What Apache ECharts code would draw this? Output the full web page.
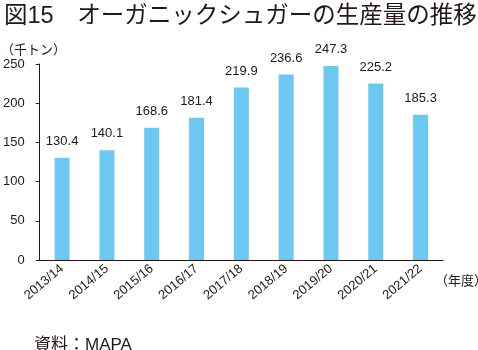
<!DOCTYPE html>
<html lang="ja">
<head>
<meta charset="UTF-8">
<title>オーガニックシュガーの生産量の推移</title>
<script src="https://cdn.jsdelivr.net/npm/echarts@6/dist/echarts.min.js"></script>
<style>
  html, body { margin: 0; padding: 0; background: #fff; }
  #chart { width: 478px; height: 350px; }
</style>
</head>
<body>
<div id="chart"></div>
<script>
    // 年度
    const years = ['2013/14', '2014/15', '2015/16', '2016/17', '2017/18', '2018/19', '2019/20', '2020/21', '2021/22'];
    // 生産量（千トン）
    const production = [130.4, 140.1, 168.6, 181.4, 219.9, 236.6, 247.3, 225.2, 185.3];

    // 数字は Liberation Sans、和文は Noto Sans CJK JP にフォールバック
    const font = '"Liberation Sans", "Noto Sans CJK JP", sans-serif';
    const ink = '#231815';
    const myChart = echarts.init(document.getElementById('chart'));
    const option = {
        animation: false,
        textStyle: { fontFamily: font },
        title: [
            {
                text: '図15　オーガニックシュガーの生産量の推移',
                left: -1, top: 0,
                textStyle: { fontSize: 23.5, fontWeight: 'normal', color: ink, fontFamily: font }
            },
            {
                text: '（千トン）',
                left: -4, top: 39,
                textStyle: { fontSize: 13, fontWeight: 'normal', color: ink, fontFamily: font }
            },
            {
                text: '（年度）',
                left: 430, top: 270,
                textStyle: { fontSize: 13, fontWeight: 'normal', color: ink, fontFamily: font }
            },
            {
                text: '資料：MAPA',
                left: 29, top: 332,
                textStyle: { fontSize: 17, fontWeight: 'normal', color: ink, fontFamily: font }
            }
        ],
        grid: { left: 38, right: 35, top: 64, bottom: 90 },
        xAxis: {
            type: 'category',
            data: years,
            axisLine: { lineStyle: { color: ink, width: 1 } },
            axisTick: { show: false },
            axisLabel: { rotate: 40, color: ink, fontSize: 13, margin: 7, fontFamily: font }
        },
        yAxis: {
            type: 'value',
            min: 0, max: 250, interval: 50,
            axisLine: { show: true, lineStyle: { color: ink, width: 1 } },
            axisTick: { show: true, length: 4, lineStyle: { color: ink } },
            splitLine: { show: false },
            axisLabel: { color: ink, fontSize: 13, margin: 15, fontFamily: font }
        },
        series: [{
            type: 'bar',
            data: production,
            barWidth: 15,
            itemStyle: { color: '#6cc8f0' },
            label: {
                show: true, position: 'top', distance: 10,
                color: ink, fontSize: 13, fontFamily: font,
                formatter: p => p.value.toFixed(1)
            }
        }]
    };
    myChart.setOption(option);
</script>
</body>
</html>
